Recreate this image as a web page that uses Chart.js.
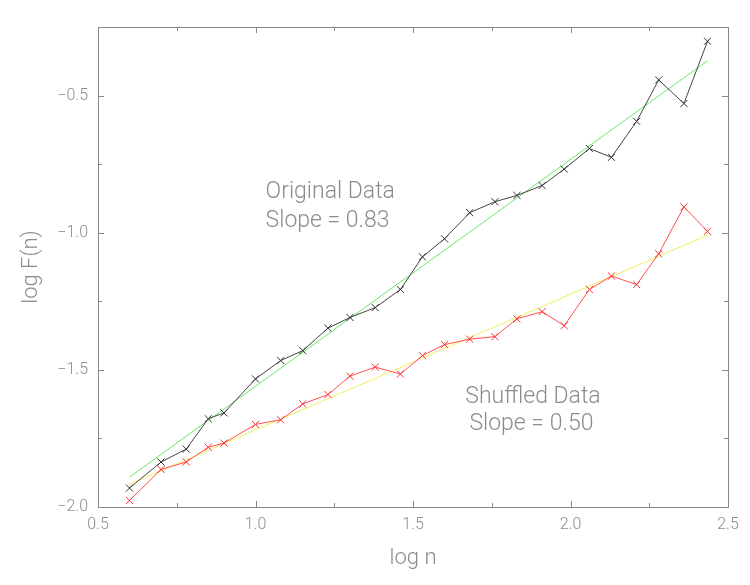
<!DOCTYPE html>
<html>
<head>
<meta charset="utf-8">
<script src="https://cdn.jsdelivr.net/npm/chart.js@4"></script>
<style>
  html, body { margin: 0; padding: 0; background: #fff; }
  #wrap { width: 750px; height: 585px; }
</style>
</head>
<body>
<div id="wrap"><canvas id="chart" width="750" height="585"></canvas></div>
<script>
// log n Werte (x) - gemeinsam für beide Reihen
const logN = [0.60, 0.70, 0.78, 0.85, 0.90, 1.00, 1.08, 1.15, 1.23, 1.30, 1.38, 1.46, 1.53,
              1.60, 1.68, 1.76, 1.83, 1.91, 1.98, 2.06, 2.13, 2.21, 2.28, 2.36, 2.435];

// log F(n) der Originaldaten
const original = [-1.931, -1.836, -1.789, -1.678, -1.657, -1.533, -1.466, -1.430, -1.348,
                  -1.309, -1.273, -1.207, -1.088, -1.022, -0.927, -0.887, -0.864, -0.828,
                  -0.768, -0.693, -0.725, -0.594, -0.443, -0.529, -0.302];

// log F(n) der gemischten Daten
const shuffled = [-1.976, -1.863, -1.836, -1.782, -1.767, -1.699, -1.682, -1.624, -1.590,
                  -1.523, -1.490, -1.515, -1.448, -1.408, -1.388, -1.379, -1.314, -1.288,
                  -1.339, -1.207, -1.158, -1.189, -1.077, -0.906, -0.995];

// Regressionsgeraden (Endpunkte)
const fitX = [0.60, 2.435];
const fitOriginal = [-1.891, -0.373];
const fitShuffled = [-1.917, -1.009];

// Achsen
const xTicks = [0.5, 1.0, 1.5, 2.0, 2.5];
const xMinor = [0.75, 1.25, 1.75, 2.25];
const yTicks = [-2.0, -1.5, -1.0, -0.5];
const yMinor = [-1.75, -1.25, -0.75];
const xRange = [0.5, 2.5];
const yRange = [-2.0, -0.25];

// Beschriftungen im Diagramm (in Datenkoordinaten)
const notes = [
  { text: "Original Data", x: 1.032, y: -0.854 },
  { text: "Slope = 0.83", x: 1.032, y: -0.958 },
  { text: "Shuffled Data", x: 1.666, y: -1.600 },
  { text: "Slope = 0.50", x: 1.679, y: -1.700 }
];

const grey = "#8c8c8c";
const fontFam = "Roboto, 'DejaVu Sans', sans-serif";

function pts(xs, ys) {
  return xs.map((x, i) => ({ x: x, y: ys[i] }));
}

// Zahl mit breitem Minuszeichen
function fmt(v) {
  return v.toFixed(1).replace("-", "\u2212");
}

// Rahmen, innere Ticks und Texte
const framePlugin = {
  id: "frame",
  afterDraw(chart) {
    const ctx = chart.ctx;
    const a = chart.chartArea;
    const sx = chart.scales.x, sy = chart.scales.y;
    ctx.save();
    ctx.strokeStyle = "#888";
    ctx.lineWidth = 1;
    ctx.strokeRect(Math.round(a.left) + 0.5, Math.round(a.top) + 0.5,
                   Math.round(a.right - a.left), Math.round(a.bottom - a.top));
    ctx.beginPath();
    const tickX = (v, len) => {
      const px = Math.round(sx.getPixelForValue(v)) + 0.5;
      ctx.moveTo(px, a.bottom); ctx.lineTo(px, a.bottom - len);
      ctx.moveTo(px, a.top); ctx.lineTo(px, a.top + len);
    };
    const tickY = (v, len) => {
      const py = Math.round(sy.getPixelForValue(v)) + 0.5;
      ctx.moveTo(a.left, py); ctx.lineTo(a.left + len, py);
      ctx.moveTo(a.right, py); ctx.lineTo(a.right - len, py);
    };
    xTicks.forEach(v => tickX(v, 6));
    xMinor.forEach(v => tickX(v, 4));
    yTicks.forEach(v => tickY(v, 6));
    yMinor.forEach(v => tickY(v, 4));
    ctx.stroke();

    ctx.fillStyle = grey;
    ctx.font = "300 23px " + fontFam;
    ctx.textAlign = "left";
    ctx.textBaseline = "middle";
    notes.forEach(n => {
      ctx.fillText(n.text, sx.getPixelForValue(n.x), sy.getPixelForValue(n.y));
    });
    ctx.restore();
  }
};

new Chart(document.getElementById("chart"), {
  type: "scatter",
  data: {
    datasets: [
      {
        label: "Original Data",
        data: pts(logN, original),
        showLine: true,
        borderColor: "#444",
        borderWidth: 1,
        pointStyle: "crossRot",
        pointRadius: 5,
        pointBorderColor: "#333",
        pointBorderWidth: 1,
        order: 1
      },
      {
        label: "Shuffled Data",
        data: pts(logN, shuffled),
        showLine: true,
        borderColor: "#ff5050",
        borderWidth: 1,
        pointStyle: "crossRot",
        pointRadius: 5,
        pointBorderColor: "#ff3030",
        pointBorderWidth: 1,
        order: 2
      },
      {
        label: "Fit Original",
        data: pts(fitX, fitOriginal),
        showLine: true,
        borderColor: "#66e866",
        borderWidth: 1,
        pointRadius: 0,
        order: 3
      },
      {
        label: "Fit Shuffled",
        data: pts(fitX, fitShuffled),
        showLine: true,
        borderColor: "#f2f060",
        borderWidth: 1,
        pointRadius: 0,
        order: 4
      }
    ]
  },
  options: {
    responsive: false,
    animation: false,
    layout: { padding: { left: 0, top: 27, right: 22, bottom: 13 } },
    plugins: {
      legend: { display: false },
      tooltip: { enabled: false }
    },
    scales: {
      x: {
        type: "linear",
        min: xRange[0],
        max: xRange[1],
        afterBuildTicks: s => { s.ticks = xTicks.map(v => ({ value: v })); },
        afterFit: s => { s.height = 65; },
        grid: { display: false, drawTicks: false },
        border: { display: false },
        ticks: {
          color: grey,
          padding: 8,
          maxRotation: 0,
          font: { family: fontFam, size: 16, weight: "300" },
          callback: v => fmt(v)
        },
        title: {
          display: true,
          text: "log n",
          color: grey,
          padding: { top: 0, bottom: 0 },
          font: { family: fontFam, size: 22, weight: "300" }
        }
      },
      y: {
        type: "linear",
        min: yRange[0],
        max: yRange[1],
        afterBuildTicks: s => { s.ticks = yTicks.map(v => ({ value: v })); },
        afterFit: s => { s.width = 98; },
        grid: { display: false, drawTicks: false },
        border: { display: false },
        ticks: {
          color: grey,
          padding: 10,
          font: { family: fontFam, size: 16, weight: "300" },
          callback: v => fmt(v)
        },
        title: {
          display: true,
          text: "log F(n)",
          color: grey,
          padding: { top: 18, bottom: 0 },
          font: { family: fontFam, size: 22, weight: "300" }
        }
      }
    }
  },
  plugins: [framePlugin]
});
</script>
</body>
</html>
